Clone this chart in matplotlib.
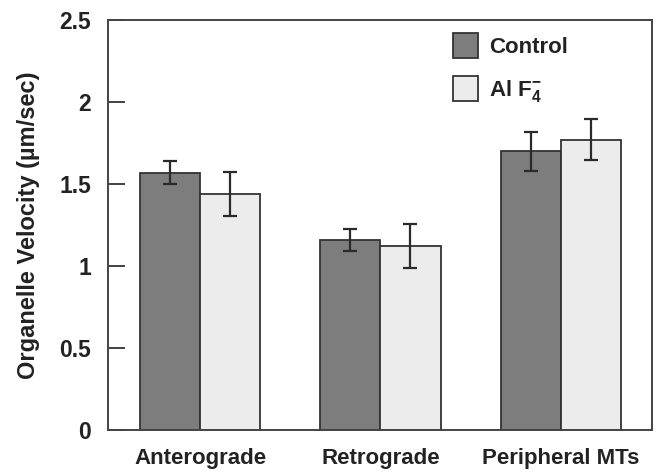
import numpy as np
import matplotlib
matplotlib.use('Agg')
import matplotlib.pyplot as plt

plt.rcParams['font.family'] = ['Liberation Sans', 'DejaVu Sans']
plt.rcParams['font.weight'] = 'bold'
plt.rcParams['mathtext.fontset'] = 'custom'
plt.rcParams['mathtext.rm'] = 'Liberation Sans:bold'
plt.rcParams['mathtext.bf'] = 'Liberation Sans:bold'
plt.rcParams['mathtext.default'] = 'bf'

# data
categories = ['Anterograde', 'Retrograde', 'Peripheral MTs']
control = [1.57, 1.16, 1.70]
control_err = [0.07, 0.066, 0.12]
alf4 = [1.44, 1.12, 1.77]
alf4_err = [0.135, 0.135, 0.125]
series_labels = ['Control', r'Al F$_4^{-}$']
yticks = [0, 0.5, 1, 1.5, 2, 2.5]
yticklabels = ['0', '0.5', '1', '1.5', '2', '2.5']

fig = plt.figure(figsize=(6.59, 4.72), dpi=100)
ax = fig.add_axes([108/659, 1 - 430/472, 544/659, 410/472])

x = np.arange(len(categories))
w = 0.333
edge = '#333333'
ax.bar(x - w/2, control, w, color='#7d7d7d', edgecolor=edge, linewidth=1.3,
       label=series_labels[0], zorder=2)
ax.bar(x + w/2, alf4, w, color='#ececec', edgecolor=edge, linewidth=1.3,
       label=series_labels[1], zorder=2)
ax.errorbar(x - w/2, control, yerr=control_err, fmt='none', ecolor='#2a2a2a',
            elinewidth=1.6, capsize=5, capthick=1.6, zorder=3)
ax.errorbar(x + w/2, alf4, yerr=alf4_err, fmt='none', ecolor='#2a2a2a',
            elinewidth=1.6, capsize=5, capthick=1.6, zorder=3)

ax.set_xlim(-0.51, 2.505)
ax.set_ylim(0, 2.5)
ax.set_yticks(yticks)
ax.set_yticklabels(yticklabels, fontsize=16.5, fontweight='bold', color='#222222')
ax.set_xticks(x)
ax.set_xticklabels(categories, fontsize=16, fontweight='bold', color='#222222')
ax.tick_params(axis='y', direction='in', length=12, width=1.3, color='#333333', pad=12)
ax.tick_params(axis='x', length=0, pad=13)
for s in ax.spines.values():
    s.set_linewidth(1.4)
    s.set_color('#444444')
ax.set_ylabel('Organelle Velocity (\u00b5m/sec)', fontsize=17, fontweight='bold',
              color='#222222', labelpad=14)

leg = ax.legend(loc='upper left', bbox_to_anchor=(0.597, 1.018), frameon=False,
                fontsize=16, handlelength=1.15, handleheight=1.35,
                handletextpad=0.5, labelspacing=0.82)
for t in leg.get_texts():
    t.set_color('#222222')

fig.savefig('out.png', dpi=100)
